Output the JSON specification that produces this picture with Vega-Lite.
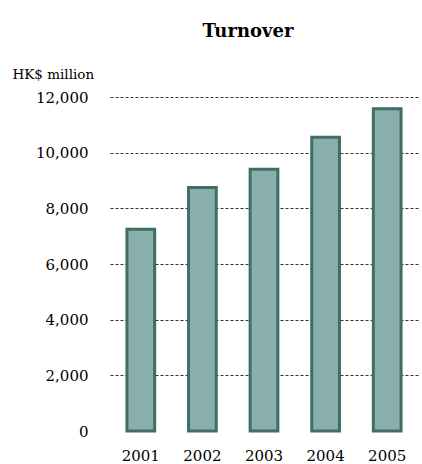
{
  "$schema": "https://vega.github.io/schema/vega-lite/v6.json",
  "width": 308,
  "height": 334,
  "autosize": {"type": "none"},
  "padding": {"left": 110, "top": 97, "right": 4, "bottom": 33},
  "background": "white",
  "title": {
    "text": "Turnover",
    "font": "DejaVu Serif",
    "fontSize": 18,
    "fontWeight": "bold",
    "color": "#000000",
    "anchor": "middle",
    "frame": "group",
    "dx": -16,
    "offset": 26
  },
  "data": {
    "values": [
      {"year": "2001", "turnover": 7250},
      {"year": "2002", "turnover": 8750},
      {"year": "2003", "turnover": 9400},
      {"year": "2004", "turnover": 10550},
      {"year": "2005", "turnover": 11580}
    ]
  },
  "mark": {"type": "bar", "fill": "#8aaeab", "stroke": "#3e6e66", "strokeWidth": 3},
  "encoding": {
    "x": {
      "field": "year",
      "type": "ordinal",
      "scale": {"paddingInner": 0.55, "paddingOuter": 0.275},
      "axis": {
        "title": null,
        "labelAngle": 0,
        "domain": false,
        "ticks": false,
        "labelFont": "DejaVu Serif",
        "labelFontSize": 15,
        "labelColor": "#000000",
        "labelPadding": 17
      }
    },
    "y": {
      "field": "turnover",
      "type": "quantitative",
      "scale": {"domain": [0, 12000], "nice": false},
      "axis": {
        "values": [0, 2000, 4000, 6000, 8000, 10000, 12000],
        "format": ",d",
        "title": "HK$ million",
        "titleAngle": 0,
        "titleAlign": "left",
        "titleBaseline": "alphabetic",
        "titleX": -98,
        "titleY": -19,
        "titleFont": "DejaVu Serif",
        "titleFontSize": 13.5,
        "titleFontWeight": "normal",
        "titleColor": "#000000",
        "domain": false,
        "ticks": false,
        "labelFont": "DejaVu Serif",
        "labelFontSize": 15,
        "labelColor": "#000000",
        "labelPadding": 22,
        "grid": true,
        "gridColor": "#333333",
        "gridDash": [3, 2],
        "gridWidth": 1,
        "gridOpacity": {"condition": {"test": "datum.value === 0", "value": 0}, "value": 1}
      }
    }
  },
  "config": {"view": {"stroke": null}}
}
